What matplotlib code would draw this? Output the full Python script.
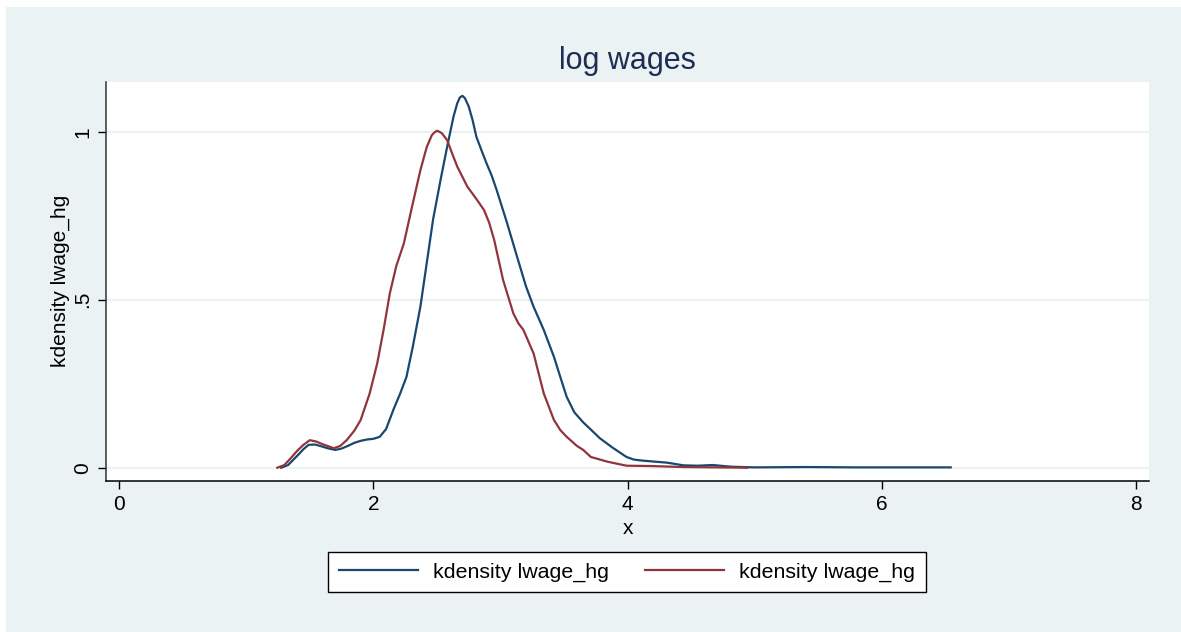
import matplotlib
matplotlib.use("Agg")
import matplotlib.pyplot as plt
from matplotlib.patches import Rectangle

# kdensity curves
x_blue = [1.275, 1.33, 1.40, 1.45, 1.49, 1.54, 1.58, 1.64, 1.70, 1.75, 1.80, 1.85,
          1.90, 1.95, 2.00, 2.05, 2.10, 2.16, 2.21, 2.26, 2.31, 2.37, 2.42, 2.47,
          2.53, 2.58, 2.63, 2.66, 2.68, 2.70, 2.72, 2.75, 2.78, 2.81, 2.85, 2.89,
          2.93, 2.97, 3.05, 3.13, 3.20, 3.26, 3.34, 3.42, 3.47, 3.52, 3.58, 3.65,
          3.72, 3.78, 3.88, 3.99, 4.05, 4.12, 4.31, 4.44, 4.55, 4.67, 4.81, 5.0,
          5.4, 5.8, 6.2, 6.54]
y_blue = [0, 0.008, 0.035, 0.055, 0.068, 0.069, 0.065, 0.058, 0.053, 0.057, 0.065, 0.074,
          0.080, 0.084, 0.086, 0.092, 0.115, 0.175, 0.22, 0.27, 0.36, 0.48, 0.61, 0.74,
          0.86, 0.955, 1.045, 1.085, 1.102, 1.107, 1.10, 1.075, 1.035, 0.985, 0.945, 0.906,
          0.87, 0.826, 0.73, 0.628, 0.54, 0.479, 0.41, 0.33, 0.27, 0.211, 0.165, 0.135,
          0.11, 0.088, 0.06, 0.032, 0.024, 0.021, 0.015, 0.007, 0.006, 0.008, 0.003, 0.001,
          0.002, 0.001, 0.001, 0.001]

x_red = [1.245, 1.30, 1.35, 1.40, 1.45, 1.50, 1.55, 1.60, 1.69, 1.74, 1.79, 1.85,
         1.90, 1.97, 2.03, 2.08, 2.13, 2.18, 2.24, 2.30, 2.37, 2.42, 2.46, 2.48,
         2.50, 2.52, 2.54, 2.58, 2.62, 2.66, 2.74, 2.81, 2.87, 2.91, 2.95, 3.02,
         3.10, 3.14, 3.18, 3.26, 3.34, 3.42, 3.47, 3.52, 3.60, 3.65, 3.71, 3.84,
         3.99, 4.18, 4.44, 4.7, 4.94]
y_red = [0, 0.008, 0.028, 0.05, 0.068, 0.082, 0.078, 0.07, 0.058, 0.065, 0.082, 0.11,
         0.142, 0.22, 0.31, 0.41, 0.52, 0.60, 0.668, 0.77, 0.886, 0.955, 0.99, 0.998,
         1.003, 1.0, 0.995, 0.975, 0.935, 0.896, 0.836, 0.80, 0.767, 0.73, 0.678, 0.559,
         0.46, 0.43, 0.41, 0.34, 0.221, 0.142, 0.112, 0.092, 0.065, 0.053, 0.032, 0.018,
         0.006, 0.005, 0.002, 0.001, 0]

xticks = [0, 2, 4, 6, 8]
yticks = [0, 0.5, 1]
ytick_labels = ["0", ".5", "1"]

plt.rcParams['font.family'] = ['Liberation Sans', 'DejaVu Sans']
bg = "#EAF2F3"

fig = plt.figure(figsize=(11.81, 6.32), dpi=100, facecolor="white")
fig.patches.append(Rectangle((6 / 1181, 0), 1 - 6 / 1181, 1 - 7 / 632,
                             transform=fig.transFigure, facecolor=bg,
                             edgecolor="none", zorder=-10))

ax = fig.add_axes([0.0898, 0.2389, 0.973 - 0.0898, 0.8707 - 0.2389])
ax.set_facecolor("white")
ax.set_xlim(-0.102, 8.10)
ax.set_ylim(-0.0396, 1.149)

for yv in yticks:
    ax.axhline(yv, color=bg, lw=1.5, zorder=0)

ax.plot(x_blue, y_blue, color="#1A476F", lw=1.6, label="kdensity lwage_hg")
ax.plot(x_red, y_red, color="#90353B", lw=1.6, label="kdensity lwage_hg")

for s in ["top", "right"]:
    ax.spines[s].set_visible(False)
ax.spines["left"].set_color("#333333")
ax.spines["bottom"].set_color("#000000")
ax.spines["left"].set_linewidth(1.1)
ax.spines["bottom"].set_linewidth(1.1)

ax.set_xticks(xticks)
ax.set_xticklabels([str(v) for v in xticks])
ax.set_yticks(yticks)
ax.set_yticklabels(ytick_labels, rotation=90, va="center")
ax.tick_params(axis="both", direction="out", length=6, width=1, labelsize=15,
               colors="#000000", pad=4)

ax.set_xlabel("x", fontsize=15, labelpad=4)
ax.set_ylabel("kdensity lwage_hg", fontsize=15, labelpad=2)
fig.text(0.531, 1 - 61 / 632, "log wages", ha="center", va="center",
         fontsize=22, color="#1E2D53")

leg = fig.legend(loc="center", bbox_to_anchor=(0.531, 1 - 572 / 632), ncol=2,
                 fontsize=15.4, frameon=True, fancybox=False, edgecolor="black",
                 facecolor="white", handlelength=3.7, columnspacing=1.7,
                 borderpad=0.5, handletextpad=0.7)
leg.get_frame().set_linewidth(1.0)
leg.get_frame().set_alpha(1)

fig.savefig("out.png", dpi=100, facecolor="white")
